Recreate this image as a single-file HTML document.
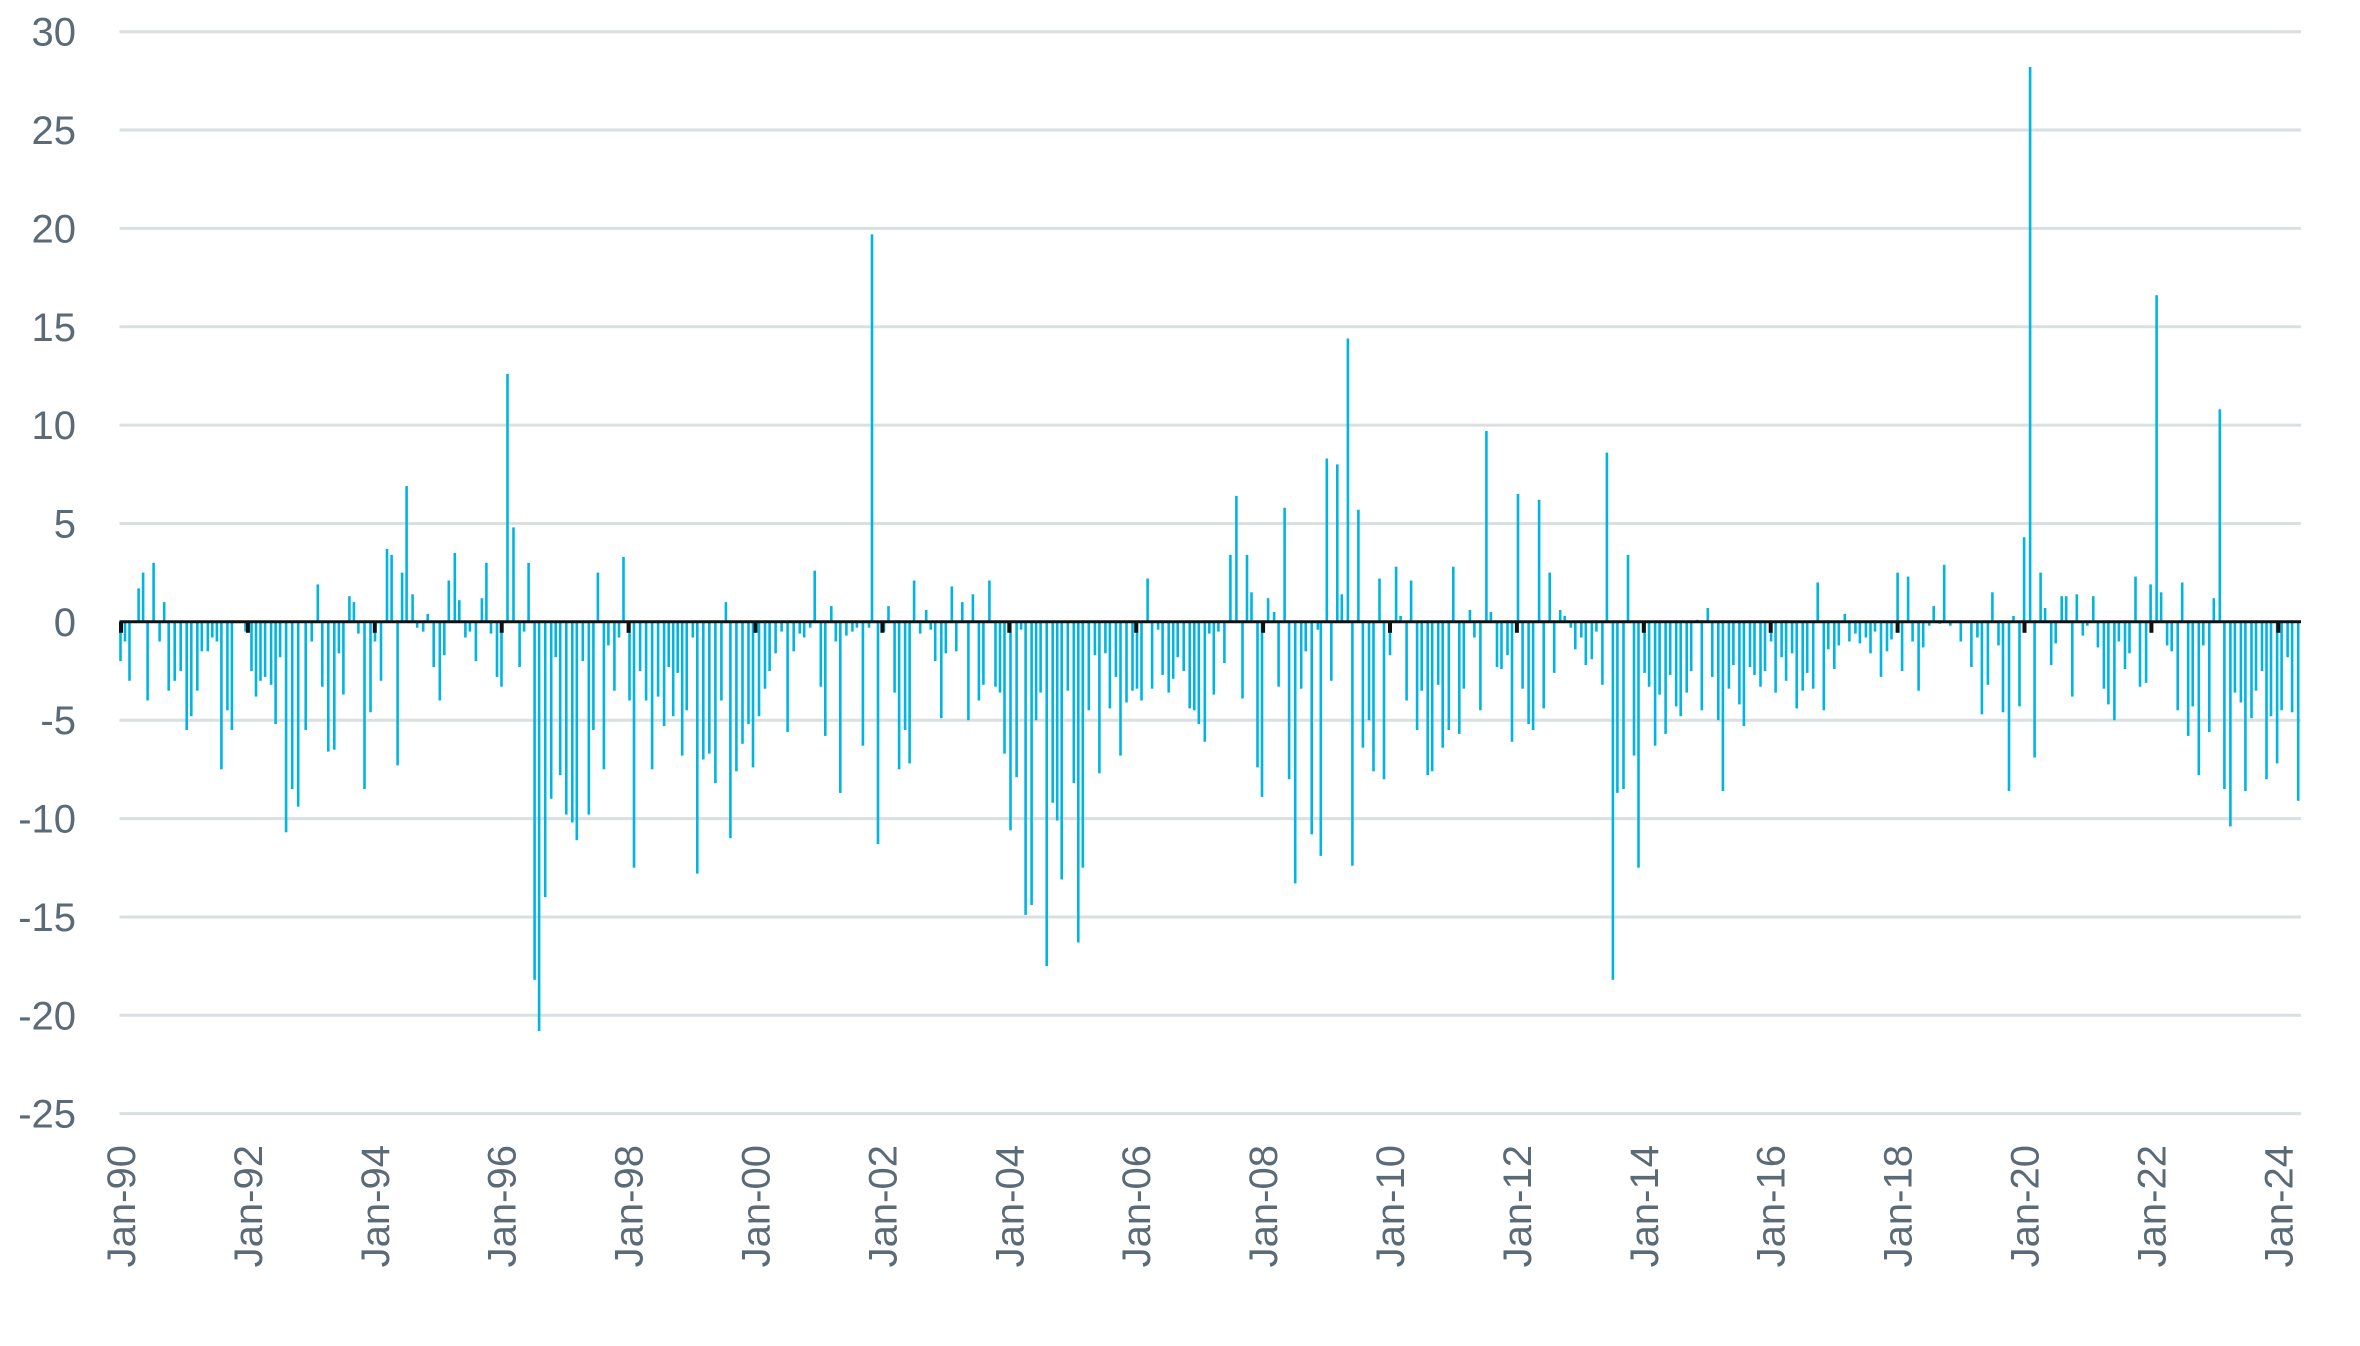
<!DOCTYPE html>
<html><head><meta charset="utf-8"><style>
html,body{margin:0;padding:0;background:#fff;width:2360px;height:1346px;overflow:hidden}
svg{display:block}
text{font-family:"Liberation Sans",sans-serif;fill:#5a6a76}
</style></head><body>
<svg id="s" width="2360" height="1346" viewBox="0 0 2360 1346" xmlns="http://www.w3.org/2000/svg"></svg>
<script>
const d=[[80,-2],[83,-1],[86,-3],[92,1.7],[95,2.5],[98,-4],[102,3],[106,-1],[109,1],[112,-3.5],[116,-3],[120,-2.5],[124,-5.5],[127,-4.8],[131,-3.5],[134,-1.5],[138,-1.5],[141,-0.8],[144,-1],[147,-7.5],[151,-4.5],[154,-5.5],[163,-0.5],[167,-2.5],[170,-3.8],[173,-3],[176,-2.8],[180,-3.2],[183,-5.2],[186,-1.8],[190,-10.7],[194,-8.5],[198,-9.4],[203,-5.5],[207,-1],[211,1.9],[214,-3.3],[218,-6.6],[222,-6.5],[225,-1.6],[228,-3.7],[232,1.3],[235,1],[238,-0.6],[242,-8.5],[246,-4.6],[249,-1],[253,-3],[257,3.7],[260,3.4],[264,-7.3],[267,2.5],[270,6.9],[274,1.4],[277,-0.3],[281,-0.5],[284,0.4],[288,-2.3],[292,-4],[295,-1.7],[298,2.1],[302,3.5],[305,1.1],[309,-0.8],[312,-0.5],[316,-2],[320,1.2],[323,3],[326,-0.6],[330,-2.8],[333,-3.3],[337,12.6],[341,4.8],[345,-2.3],[348,-0.5],[351,3],[355,-18.2],[358,-20.8],[362,-14],[366,-9],[369,-1.8],[372,-7.8],[376,-9.8],[380,-10.2],[383,-11.1],[387,-2],[391,-9.8],[394,-5.5],[397,2.5],[401,-7.5],[404,-1.2],[408,-3.5],[411,-0.8],[414,3.3],[418,-4],[421,-12.5],[425,-2.5],[429,-4],[433,-7.5],[437,-3.8],[441,-5.3],[444,-2.3],[447,-4.8],[450,-2.6],[453,-6.8],[456,-4.5],[460,-0.8],[463,-12.8],[467,-7],[471,-6.7],[475,-8.2],[479,-4],[482,1],[485,-11],[489,-7.6],[493,-6.2],[497,-5.2],[500,-7.4],[504,-4.8],[508,-3.4],[511,-2.5],[515,-1.6],[519,-0.5],[523,-5.6],[527,-1.5],[531,-0.6],[534,-0.8],[538,-0.3],[541,2.6],[545,-3.3],[548,-5.8],[552,0.8],[555,-1],[558,-8.7],[562,-0.7],[566,-0.5],[569,-0.3],[573,-6.3],[577,-0.3],[579,19.7],[583,-11.3],[587,-0.5],[590,0.8],[594,-3.6],[597,-7.5],[601,-5.5],[604,-7.2],[607,2.1],[611,-0.6],[615,0.6],[618,-0.4],[621,-2],[625,-4.9],[628,-1.6],[632,1.8],[635,-1.5],[639,1],[643,-5],[646,1.4],[650,-4],[653,-3.2],[657,2.1],[661,-3.3],[664,-3.6],[667,-6.7],[671,-10.6],[675,-7.9],[678,-0.4],[681,-14.9],[685,-14.4],[688,-5],[691,-3.6],[695,-17.5],[699,-9.2],[702,-10.1],[705,-13.1],[709,-3.5],[713,-8.2],[716,-16.3],[719,-12.5],[723,-4.5],[727,-1.7],[730,-7.7],[734,-1.6],[737,-4.4],[741,-2.8],[744,-6.8],[748,-4.1],[752,-3.5],[755,-3.4],[758,-4],[762,2.2],[765,-3.4],[769,-0.4],[772,-2.7],[776,-3.6],[779,-2.9],[782,-1.8],[786,-2.5],[790,-4.4],[793,-4.5],[796,-5.2],[800,-6.1],[803,-0.6],[806,-3.7],[809,-0.5],[813,-2.1],[817,3.4],[821,6.4],[825,-3.9],[828,3.4],[831,1.5],[835,-7.4],[838,-8.9],[842,1.2],[846,0.5],[849,-3.3],[853,5.8],[856,-8],[860,-13.3],[864,-3.4],[867,-1.5],[871,-10.8],[875,-0.4],[877,-11.9],[881,8.3],[884,-3],[888,8],[891,1.4],[895,14.4],[898,-12.4],[902,5.7],[905,-6.4],[909,-5],[912,-7.6],[916,2.2],[919,-8],[923,-1.7],[927,2.8],[930,0.3],[934,-4],[937,2.1],[941,-5.5],[944,-3.5],[948,-7.8],[951,-7.6],[955,-3.2],[958,-6.4],[962,-5.5],[965,2.8],[969,-5.7],[972,-3.4],[976,0.6],[979,-0.8],[983,-4.5],[987,9.7],[990,0.5],[994,-2.3],[997,-2.4],[1001,-1.7],[1004,-6.1],[1008,6.5],[1011,-3.4],[1015,-5.2],[1018,-5.5],[1022,6.2],[1025,-4.4],[1029,2.5],[1032,-2.6],[1036,0.6],[1039,0.3],[1043,-0.3],[1046,-1.4],[1050,-0.8],[1053,-2.2],[1057,-1.9],[1060,-0.5],[1064,-3.2],[1067,8.6],[1071,-18.2],[1074,-8.7],[1078,-8.5],[1081,3.4],[1085,-6.8],[1088,-12.5],[1092,-2.6],[1095,-3.3],[1099,-6.3],[1102,-3.7],[1106,-5.7],[1109,-2.7],[1113,-4.3],[1116,-4.8],[1120,-3.6],[1123,-2.5],[1127,0.1],[1130,-4.5],[1134,0.7],[1137,-2.8],[1141,-5],[1144,-8.6],[1148,-3.4],[1151,-2.2],[1155,-4.2],[1158,-5.3],[1162,-2.3],[1165,-2.7],[1169,-3.3],[1172,-2.5],[1176,-1],[1179,-3.6],[1183,-1.8],[1186,-3],[1190,-1.6],[1193,-4.4],[1197,-3.5],[1200,-2.6],[1204,-3.4],[1207,2],[1211,-4.5],[1214,-1.4],[1218,-2.4],[1221,-1.2],[1225,0.4],[1228,-1],[1232,-0.6],[1235,-1.1],[1239,-0.8],[1242,-1.6],[1245,-0.5],[1249,-2.8],[1253,-1.5],[1256,-0.9],[1260,2.5],[1263,-2.5],[1267,2.3],[1270,-1],[1274,-3.5],[1277,-1.3],[1281,-0.2],[1284,0.8],[1288,-0.1],[1291,2.9],[1295,-0.2],[1302,-1],[1309,-2.3],[1313,-0.8],[1316,-4.7],[1320,-3.2],[1323,1.5],[1327,-1.2],[1330,-4.6],[1334,-8.6],[1337,0.3],[1341,-4.3],[1344,4.3],[1348,28.2],[1351,-6.9],[1355,2.5],[1358,0.7],[1362,-2.2],[1365,-1.1],[1369,1.3],[1372,1.3],[1376,-3.8],[1379,1.4],[1383,-0.7],[1386,-0.2],[1390,1.3],[1393,-1.3],[1397,-3.4],[1400,-4.2],[1404,-5],[1407,-1],[1411,-2.4],[1414,-1.6],[1418,2.3],[1421,-3.3],[1425,-3.1],[1428,1.9],[1432,16.6],[1435,1.5],[1439,-1.2],[1442,-1.5],[1446,-4.5],[1449,2],[1453,-5.8],[1456,-4.3],[1460,-7.8],[1463,-1.2],[1467,-5.6],[1470,1.2],[1474,10.8],[1477,-8.5],[1481,-10.4],[1484,-3.6],[1488,-4.1],[1491,-8.6],[1495,-4.9],[1498,-3.5],[1502,-2.5],[1505,-8],[1508,-4.8],[1512,-7.2],[1515,-4.5],[1519,-1.8],[1522,-4.6],[1526,-9.1]];
const Y0=621.8,U=19.672,L=119.5,R=2301;
let h='';
for(let i=0;i<12;i++){const v=30-5*i,y=31.7+i*98.36;
 if(v!==0)h+=`<line x1="${L}" x2="${R}" y1="${y}" y2="${y}" stroke="#dadfe2" stroke-width="3"/>`;
 h+=`<text x="76" y="${y+14}" font-size="40" text-anchor="end">${v}</text>`;}
for(const [xd,v] of d){const x=xd*1.506;const y=Y0-v*U;
 h+=`<rect x="${(x-1.3).toFixed(1)}" y="${Math.min(y,Y0).toFixed(1)}" width="2.6" height="${Math.abs(v*U).toFixed(1)}" fill="#00b5e2"/>`;}
h+=`<line x1="${L}" x2="${R}" y1="${Y0}" y2="${Y0}" stroke="#111" stroke-width="3"/>`;
const labs=['90','92','94','96','98','00','02','04','06','08','10','12','14','16','18','20','22','24'];
labs.forEach((l,k)=>{const x=121+k*126.9;
 h+=`<rect x="${x-2}" y="${Y0}" width="4" height="11" fill="#111"/>`;
 h+=`<text transform="translate(${x+14},1145) rotate(-90)" font-size="40" text-anchor="end">Jan-${l}</text>`;});
document.getElementById('s').innerHTML=h;
</script>
</body></html>
